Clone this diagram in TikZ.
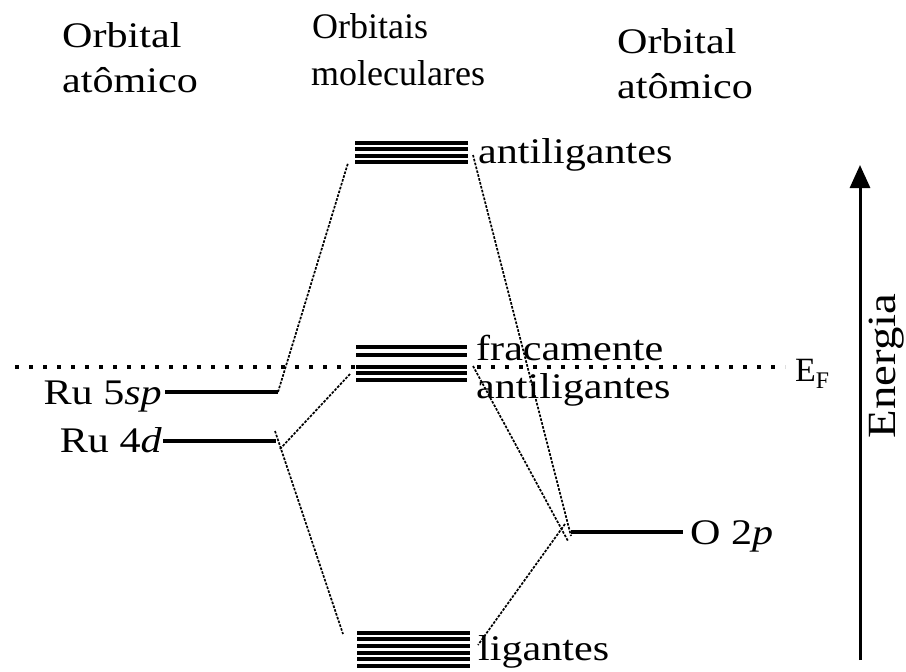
\documentclass[tikz,border=0pt]{standalone}
\usepackage{fontspec}
\setmainfont{Liberation Serif}
\newfontfamily\widefont{Liberation Serif}[FakeStretch=1.17]
\usetikzlibrary{arrows.meta}
\begin{document}
\begin{tikzpicture}[x=1pt,y=-1pt,
  lbl/.style={inner sep=0pt,font=\widefont\fontsize{36}{40}\selectfont},
  head/.style={inner sep=0pt,font=\fontsize{36}{40}\selectfont},
  level/.style={line width=3.4pt},
  band/.style={line width=3.4pt},
  corr/.style={line width=1.7pt,dash pattern=on 2.6pt off 1.4pt},
  fermi/.style={line width=3.8pt,dash pattern=on 3.8pt off 10.2pt}]
\useasboundingbox (0,0) rectangle (906,672);

% headings
\node[lbl,anchor=base west] (h1a) at (62,47) {Orbital};
\node[lbl,anchor=base west] (h1b) at (62,92) {atômico};
\node[head,anchor=base west] (h2a) at (312,38) {Orbitais};
\node[head,anchor=base west] (h2b) at (311,85) {moleculares};
\node[lbl,anchor=base west] (h3a) at (617,53) {Orbital};
\node[lbl,anchor=base west] (h3b) at (617,98) {atômico};

% Fermi level
\coordinate (ef-l) at (15,367);
\coordinate (ef-r) at (785,367);
\draw[fermi] (ef-l) -- (ef-r);
\node[lbl,anchor=base west,font=\fontsize{34}{38}\selectfont] (ef) at (795,381) {E\textsubscript{F}};

% atomic levels of Ru
\coordinate (sp-l) at (165,392);
\coordinate (sp-r) at (278,392);
\coordinate (d-l) at (163,441);
\coordinate (d-r) at (276,441);
\draw[level] (sp-l) -- (sp-r);
\draw[level] (d-l) -- (d-r);
\node[lbl,anchor=base east] (sp) at (162,404) {Ru 5\textit{sp}};
\node[lbl,anchor=base east] (d) at (162,452) {Ru 4\textit{d}};

% atomic level of O
\coordinate (o-l) at (571,532);
\coordinate (o-r) at (683,532);
\draw[level] (o-l) -- (o-r);
\node[lbl,anchor=base west] (o) at (690,544) {O 2\textit{p}};

% antibonding band
\foreach \y in {143,149,156,162}
  \draw[band] (355,\y) -- (468,\y);
\coordinate (ab-l) at (348,163);
\coordinate (ab-r) at (473,155);
\node[lbl,anchor=base west] (ab) at (478,163) {antiligantes};

% weakly antibonding band
\foreach \y in {347,355,367,373,380}
  \draw[band] (356,\y) -- (467,\y);
\coordinate (wb-l) at (350,374);
\coordinate (wb-r) at (473,366);
\node[lbl,anchor=base west] (wb1) at (476,360) {fracamente};
\node[lbl,anchor=base west] (wb2) at (476,398) {antiligantes};

% bonding band
\foreach \y in {633,639,646,653,659,666}
  \draw[band] (357,\y) -- (470,\y);
\coordinate (bb-l) at (343,634);
\coordinate (bb-r) at (478,645);
\node[lbl,anchor=base west] (bb) at (478,660) {ligantes};

% correlation lines
\draw[corr] (sp-r) -- (ab-l);
\draw[corr] ([xshift=4pt,yshift=-8pt]d-r) -- (wb-l);
\draw[corr] ([xshift=-1pt,yshift=10pt]d-r) -- (bb-l);
\draw[corr] (ab-r) -- ([yshift=-4pt]o-l);
\draw[corr] (wb-r) -- ([xshift=-3pt,yshift=-9pt]o-l);
\draw[corr] ([xshift=-6pt,yshift=8pt]o-l) -- (bb-r);

% energy axis
\coordinate (en-b) at (860,660);
\coordinate (en-t) at (860,165);
\draw[line width=3pt,-{Triangle[length=23pt,width=20pt]}] (en-b) -- (en-t);
\node[lbl,anchor=base,rotate=90,font=\widefont\fontsize{40}{44}\selectfont] (en) at (895,366) {Energia};
\end{tikzpicture}
\end{document}
